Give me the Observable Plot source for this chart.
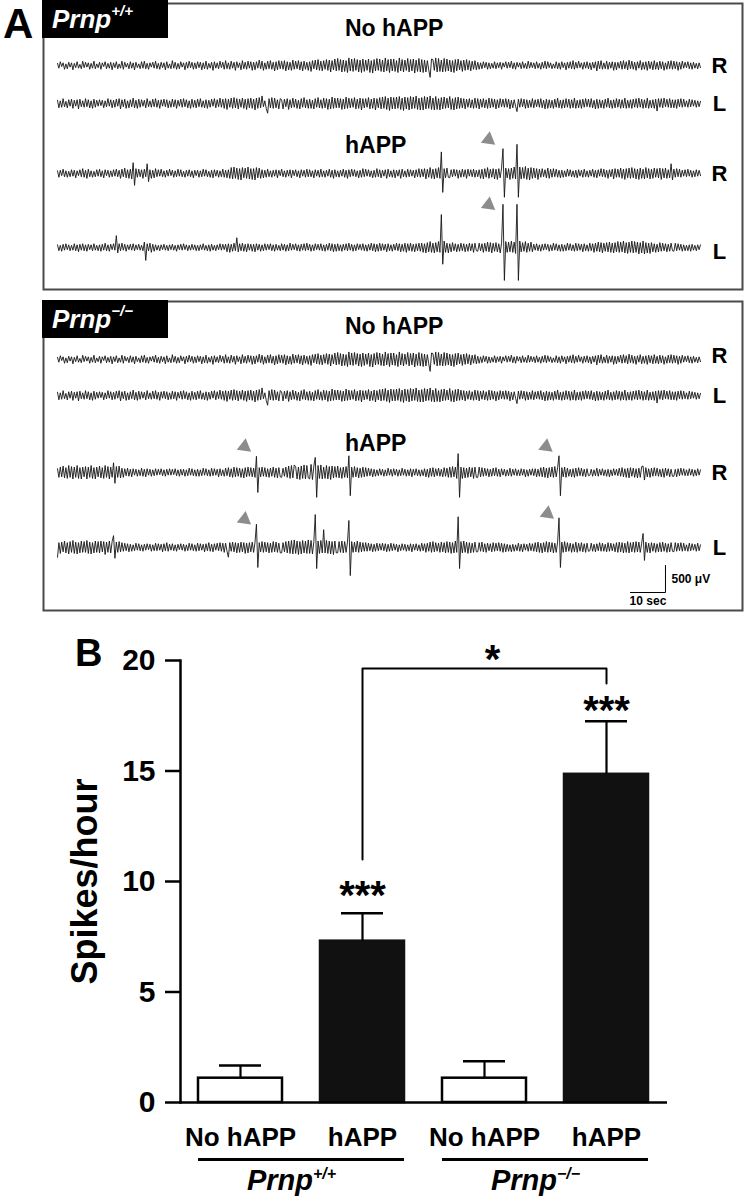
<!DOCTYPE html>
<html>
<head>
<meta charset="utf-8">
<script src="https://cdn.jsdelivr.net/npm/d3@7"></script>
<script src="https://cdn.jsdelivr.net/npm/@observablehq/plot@0.6"></script>
<style>
  body { margin: 0; background: #fff; }
  #root { position: relative; width: 744px; height: 1200px; overflow: hidden; font-family: "Liberation Sans", Arial, sans-serif; }
  .tag { position: absolute; background: #000; color: #fff; font: italic bold 26px "Liberation Sans", Arial, sans-serif; line-height: 38px; height: 38px; padding-left: 10px; box-sizing: border-box; white-space: nowrap; }
  .tag sup { font-size: 15px; vertical-align: 12px; line-height: 0; }
  .ttl { position: absolute; font: bold 23px "Liberation Sans", Arial, sans-serif; line-height: 1; transform: translateY(-50%); white-space: nowrap; }
  .panel { position: absolute; font-weight: bold; line-height: 1; font-family: "Liberation Sans", Arial, sans-serif; }
</style>
</head>
<body>
<div id="root"></div>
<script>
// ---------------- DATA: panel A EEG traces (amplitude in units of 10 µV, one sample every 0.4 s) ----------------
const noHappR = [
  4,-5,7,-2,5,-7,3,-6,6,-3,5,-8,4,-4,7,-5,2,-6,8,-4,
  6,-3,5,-7,4,-5,8,-6,3,-4,6,-7,5,-2,7,-6,4,-5,6,-8,
  5,-4,7,-6,3,-5,8,-7,6,-3,4,-6,7,-5,5,-8,6,-4,3,-6,
  7,-5,8,-6,4,-7,5,-3,6,-5,8,-6,4,-7,6,-4,5,-8,7,-5,
  3,-6,9,-5,6,-7,4,-6,7,-3,5,-8,6,-5,8,-4,6,-7,5,-6,
  7,-4,6,-8,5,-6,8,-7,4,-5,6,-9,7,-5,5,-6,8,-4,6,-7,
  9,-6,5,-7,8,-5,6,-9,7,-4,5,-8,9,-6,6,-7,8,-5,7,-9,
  6,-8,7,-5,10,-6,8,-9,5,-7,8,-6,9,-7,6,-10,7,-8,9,-6,
  8,-7,9,-10,7,-8,6,-9,10,-7,8,-6,9,-8,7,-10,8,-7,6,-9,
  7,-11,9,-6,10,-8,11,-9,8,-10,9,-7,11,-9,10,-12,9,-8,12,-10,
  13,-9,11,-12,10,-11,9,-13,14,-10,12,-11,13,-9,11,-12,10,-13,12,-11,
  10,-9,12,-13,9,-14,11,-10,13,-9,12,-11,10,-12,14,-10,11,-13,12,-10,
  12,-11,9,-13,14,-10,11,-12,10,-9,13,-12,11,-10,12,-14,10,-11,13,-12,
  11,-13,10,-12,9,-8,-22,12,11,-9,14,-12,13,-11,10,-12,13,-11,12,-10,
  10,-12,9,-13,11,-10,12,-8,9,-11,10,-9,11,-8,9,-10,8,-7,9,-8,
  6,-7,5,-6,7,-4,6,-7,5,-6,4,-5,7,-6,5,-4,6,-7,5,-3,
  7,-5,6,-4,8,-6,5,-7,6,-3,5,-6,7,-5,4,-6,8,-5,6,-4,
  5,-6,7,-5,4,-7,6,-5,8,-6,7,-4,5,-6,3,-5,7,-6,5,-7,
  7,-4,5,-8,6,-5,7,-6,9,-7,6,-5,8,-4,5,-7,6,-5,7,-6,
  5,-8,6,-5,7,-10,8,-6,9,-7,5,-6,8,-7,6,-5,7,-9,6,-8,
  6,-5,8,-7,9,-6,7,-8,10,-6,8,-7,6,-9,7,-5,9,-8,6,-7,
  7,-9,8,-6,7,-8,9,-7,6,-8,8,-6,7,-9,5,-7,8,-6,9,-7,
  8,-6,7,-9,6,-7,8,-5,6,-4,7,-6,5,-7,6,-5,4,-6,5,-4
];
const noHappL = [
  6,-8,5,-7,9,-6,4,-8,7,-5,8,-9,6,-5,7,-10,8,-6,5,-7,
  9,-6,7,-8,5,-9,8,-7,6,-5,7,-4,6,-8,5,-6,9,-5,7,-8,
  6,-7,8,-5,9,-10,7,-6,8,-9,5,-8,7,-6,10,-8,6,-9,8,-7,
  7,-5,6,-8,9,-6,5,-7,8,-6,9,-7,6,-9,7,-5,8,-6,7,-8,
  5,-7,8,-6,7,-9,6,-5,8,-7,9,-6,7,-8,5,-9,8,-7,6,-8,
  8,-6,9,-7,5,-8,7,-9,6,-7,8,-5,9,-8,7,-6,10,-7,8,-9,
  9,-11,8,-7,10,-9,11,-8,9,-10,8,-7,10,-9,8,-11,9,-8,10,-9,
  8,-12,10,-9,11,-8,14,-6,5,-9,-18,9,-8,11,-9,10,-8,7,-10,9,
  7,-10,8,-6,9,-11,7,-8,10,-7,8,-9,6,-10,9,-7,11,-8,7,-9,
  8,-9,6,-10,9,-7,11,-8,7,-9,10,-8,9,-11,8,-10,12,-9,10,-8,
  10,-8,9,-11,8,-10,12,-9,10,-8,9,-7,11,-10,8,-9,10,-12,9,-8,
  9,-7,11,-10,8,-9,10,-12,9,-8,11,-10,12,-9,13,-11,10,-13,12,-10,
  11,-10,12,-9,13,-11,10,-13,12,-10,11,-12,13,-10,12,-9,14,-11,10,-12,
  11,-12,13,-10,12,-9,14,-11,10,-12,13,-11,9,-12,11,-10,12,-9,10,-8,
  13,-11,9,-12,11,-10,12,-9,10,-8,9,-10,8,-7,9,-8,7,-9,10,-8,
  9,-10,8,-7,9,-8,7,-9,10,-8,9,-7,8,-10,7,-8,9,-6,8,-7,
  9,-7,8,-10,6,-8,7,-5,-15,8,-7,9,-6,8,-9,7,-8,6,-7,9,
  -8,7,-6,8,-7,9,-8,6,-10,8,-9,7,-8,6,-9,8,-7,10,-8,6,
  -9,7,-8,9,-7,8,-9,7,-8,10,-9,6,-8,7,-9,8,-7,9,-6,8,
  -7,9,-8,6,-10,8,-9,7,-8,6,-9,8,-7,10,-8,6,-9,7,-8,9,
  -7,8,-9,7,-8,10,-9,6,-8,7,-9,8,-7,9,-8,10,-7,8,-9,7,
  -8,10,-9,6,-8,7,-9,8,-14,9,-7,9,-8,10,-6,8,-7,9,-8,7,
  -8,7,-9,8,-6,9,-7,8,-6,5,-7,8,-6,7,-5,6,-7,5,-6,4
];
const wtHappR = [
  5,-7,6,-4,8,-6,5,-7,4,-6,7,-5,6,-8,5,-4,7,-6,9,-7,
  6,-9,8,-6,5,-7,4,-6,7,-5,8,-6,5,-8,7,-4,6,-7,5,-6,
  7,-5,8,-6,6,-9,8,-6,10,-8,7,-9,8,-10,20,-22,9,-7,8,-6,
  7,-9,8,-6,18,-15,7,-9,6,-8,9,-6,7,-5,8,-6,5,-7,6,-5,
  8,-4,6,-7,5,-6,8,-5,7,-6,4,-7,6,-5,7,-6,5,-8,6,-4,
  6,-7,5,-6,8,-5,7,-6,4,-7,6,-8,7,-5,6,-7,5,-6,8,-7,
  6,-8,7,-9,11,-10,12,-9,10,-11,9,-12,11,-8,10,-9,12,-10,9,-11,
  9,-12,11,-8,10,-9,7,-8,6,-7,8,-6,5,-7,6,-5,7,-8,6,-4,
  8,-6,5,-7,6,-5,7,-8,6,-4,7,-6,5,-8,7,-5,6,-7,8,-6,
  7,-6,5,-8,7,-5,6,-7,8,-6,5,-7,6,-5,8,-7,6,-9,7,-6,
  5,-7,6,-5,8,-7,6,-9,7,-6,8,-5,7,-6,5,-8,6,-7,9,-6,
  8,-5,7,-6,5,-8,6,-7,9,-6,7,-8,6,-5,7,-9,8,-6,5,-7,
  7,-8,6,-5,7,-9,8,-6,5,-7,8,-6,7,-5,6,-8,7,-6,9,-7,
  8,-6,9,-10,8,-7,11,-9,8,-10,9,-8,11,-9,40,-35,9,-8,10,-7,
  -8,7,-6,8,-5,7,-9,6,-7,8,-6,7,-9,8,-5,7,-6,8,-7,6,
  -6,7,-9,8,-10,9,-7,11,-9,8,-7,9,-10,8,-11,9,-8,10,46,-44,
  10,-8,9,-11,10,-9,12,-10,54,-44,12,-10,11,-9,13,-11,10,-12,11,-9,
  10,-8,9,-11,8,-7,9,-6,7,-8,10,-9,8,-7,9,-6,8,-7,6,-8,
  6,-7,5,-6,8,-5,7,-6,5,-7,6,-8,7,-5,6,-7,8,-6,5,-7,
  6,-5,8,-7,6,-8,7,-5,9,-6,8,-7,6,-9,7,-6,8,-10,9,-7,
  8,-7,10,-9,8,-11,9,-8,10,-9,11,-8,9,-10,8,-11,10,-9,8,-10,
  11,-8,9,-10,8,-9,10,-7,9,-8,10,-11,9,-8,10,-9,7,-8,18,-12,
  8,-7,9,-6,8,-7,6,-5,7,-6,8,-5,6,-7,5,-6,7,-5,6,-4
];
const wtHappL = [
  5,-6,4,-7,6,-5,7,-4,5,-6,4,-5,7,-6,5,-8,6,-5,7,-6,
  5,-7,6,-4,5,-6,7,-5,4,-6,5,-7,6,-5,8,-6,5,-7,6,-4,
  7,-5,22,-10,7,-6,8,-5,6,-7,5,-4,6,-5,7,-6,5,-4,6,-5,
  4,-6,10,-24,7,-6,8,-9,6,-7,5,-5,4,-6,5,-4,6,-5,4,-6,
  5,-4,6,-5,4,-7,5,-4,6,-5,7,-4,5,-6,4,-5,6,-4,5,-6,
  4,-6,5,-4,7,-5,4,-6,5,-7,6,-5,4,-6,5,-4,7,-5,6,-4,
  6,-8,7,-9,6,-7,8,-6,18,-8,7,-6,8,-7,6,-8,7,-5,6,-7,
  6,-8,7,-5,6,-7,5,-6,7,-5,6,-4,7,-6,5,-7,6,-5,4,-6,
  7,-5,6,-7,5,-6,8,-5,6,-4,7,-6,5,-7,6,-5,7,-6,8,-5,
  6,-7,5,-6,7,-4,6,-5,7,-6,5,-7,6,-5,8,-6,7,-8,6,-7,
  7,-6,5,-7,6,-5,7,-6,8,-5,6,-7,5,-6,7,-4,6,-5,7,-6,
  5,-7,6,-5,8,-6,7,-8,6,-7,8,-6,7,-5,6,-8,7,-6,5,-7,
  6,-5,8,-6,7,-8,6,-7,8,-9,7,-6,8,-7,6,-8,7,-6,8,-7,
  8,-9,7,-10,9,-8,11,-9,8,-10,9,-8,11,-9,61,-31,12,-9,8,-10,
  7,-8,9,-6,7,-8,6,-7,8,-6,7,-8,6,-7,8,-6,7,-9,8,-6,
  -7,8,-6,7,-9,8,-7,10,-8,9,-10,8,-7,9,-8,7,-10,8,80,-61,
  11,-9,10,-8,12,-9,10,-11,80,-61,12,-8,9,-7,11,-9,8,-7,10,-8,
  6,-5,7,-6,5,-7,6,-5,7,-4,6,-7,5,-6,8,-5,7,-6,5,-7,
  6,-7,5,-6,8,-5,7,-6,5,-7,8,-6,7,-5,6,-8,7,-6,5,-7,
  8,-6,7,-9,8,-7,10,-8,9,-10,8,-7,9,-8,10,-9,8,-10,9,-8,
  11,-9,10,-8,12,-10,9,-11,10,-9,12,-10,11,-9,10,-12,9,-10,12,-12,
  9,-10,8,-11,9,-8,7,-9,6,-8,9,-7,8,-6,7,-8,6,-7,8,-6,
  -7,8,-6,7,-5,6,-7,5,-6,4,-6,5,-7,6,-5,4,-6,5,-4,5
];
const koHappR = [
  7,-9,10,-8,12,-10,9,-11,13,-9,11,-12,10,-9,13,-11,9,-12,10,-8,
  11,-12,10,-9,13,-11,9,-12,10,-8,12,-10,9,-11,13,-9,11,-12,10,-9,
  18,-20,11,-9,12,-10,8,-9,7,-6,8,-7,6,-8,7,-5,6,-7,5,-6,
  8,-7,6,-8,7,-5,6,-7,5,-6,7,-5,6,-4,7,-6,5,-7,6,-5,
  7,-5,6,-4,7,-6,5,-7,6,-5,6,-7,5,-6,8,-5,7,-6,5,-7,
  6,-7,5,-6,8,-5,7,-6,5,-7,8,-6,7,-5,6,-8,7,-6,5,-7,
  8,-6,9,-8,7,-9,10,-8,9,-7,8,-9,7,-10,9,-8,10,-7,9,-8,
  8,-9,30,-37,9,-8,10,-7,9,-8,7,-9,8,-7,10,-9,8,-10,9,-8,
  -9,8,-7,10,-9,12,-11,13,-10,14,11,-12,10,-13,12,-11,14,-12,13,-10,
  -12,15,-13,12,28,-46,13,-11,14,-12,10,-11,13,-12,11,-13,12,-10,11,-9,
  12,-10,9,-11,10,-9,11,-10,31,-43,10,-9,11,-8,9,-10,8,-9,10,-8,
  9,-7,8,-6,7,-8,6,-7,5,-6,7,-5,6,-7,5,-6,8,-5,6,-7,
  7,-5,6,-7,5,-6,8,-5,6,-7,5,-6,7,-8,6,-5,7,-6,5,-7,
  5,-6,7,-8,6,-9,8,-7,9,-8,7,-6,8,-7,6,-8,9,-7,8,-9,
  10,-9,11,-8,10,-11,35,-46,10,-11,9,-10,8,-9,10,-8,9,-11,10,-9,
  -9,10,-8,9,-7,8,-6,7,-8,6,-7,8,-6,9,-7,6,-8,7,-5,6,
  -7,5,-6,8,-7,6,-5,7,-6,5,-6,7,-5,6,-8,5,-7,6,-5,7,
  -6,7,-8,6,-7,9,-8,10,-9,8,-10,9,-8,10,-9,11,-8,9,31,-43,
  9,-8,10,-9,8,-7,6,-8,7,-9,8,-7,9,-6,8,-7,6,-8,7,-6,
  -5,6,-7,5,-6,8,-7,6,-5,7,-6,5,-7,6,-8,5,-6,7,-5,6,
  -6,8,-7,9,-8,7,-9,8,-10,9,-7,8,-9,7,-10,8,-9,11,12,-14,
  9,-8,7,-9,8,-7,9,-6,8,-7,6,-8,7,-9,8,-6,7,-8,6,-7,
  -7,6,-8,7,-6,8,-5,7,-6,5,-6,7,-5,6,-7,5,-6,7,-5,5
];
const koHappL = [
  -18,9,-11,10,-8,12,-10,9,-12,11,-9,13,-11,10,-12,9,-10,12,-9,11,
  -9,13,-11,10,-12,9,-10,12,-9,11,-10,12,-8,11,-13,10,-9,12,-10,11,
  22,-20,10,-9,11,-8,9,-7,8,-6,7,-8,6,-7,5,-6,8,-5,7,-6,
  5,-7,6,-5,7,-4,6,-7,5,-6,8,-6,7,-5,6,-8,7,-6,9,-7,
  6,-5,7,-6,5,-7,6,-4,7,-5,6,-7,5,-6,8,-5,7,-6,5,-7,
  8,-6,7,-5,6,-8,7,-6,9,-7,6,-8,7,-5,8,-6,9,-7,8,-9,
  8,-7,-18,9,-7,10,-8,9,-10,8,-9,10,-8,9,-11,8,-10,9,-8,10,
  -9,10,43,-37,9,-8,11,-9,10,-8,9,-10,8,-9,11,-8,10,-9,8,-10,
  -10,9,-8,11,-10,12,-11,13,-12,14,-11,12,-13,11,-12,13,-10,12,-11,14,
  -11,13,-12,11,61,-39,12,-11,13,-10,33,-10,13,-11,12,-12,11,-13,12,-10,
  -10,11,-9,12,-10,11,-9,10,50,-52,11,-9,10,-8,12,-9,10,-8,9,-7,
  9,-7,8,-6,7,-8,6,-7,8,-6,7,-5,8,-6,7,-8,6,-7,8,-6,
  7,-5,6,-8,5,-6,7,-5,6,-7,5,-6,7,-8,6,-5,7,-6,5,-7,
  8,-6,7,-9,8,-7,10,-9,11,-8,9,-7,8,-9,10,-8,9,-10,11,-9,
  10,-11,9,-10,12,-9,57,-39,11,-10,12,-9,10,-11,9,-10,8,-9,10,-8,
  -8,9,-7,10,-8,7,-9,8,-6,7,-8,9,-7,8,-6,9,-7,8,-9,7,
  -8,6,-7,5,-8,6,-7,5,-6,8,-7,6,-8,7,-5,6,-7,8,-6,7,
  -7,9,-8,10,-9,8,-10,9,-8,11,-9,10,-8,9,-10,8,-9,10,55,-37,
  10,-9,11,-8,9,-7,8,-9,7,-8,10,-9,8,-7,9,-8,7,-9,8,-7,
  -6,8,-7,6,-8,7,-6,9,-7,8,-7,6,-8,9,-7,8,-6,7,-8,9,
  -9,10,-8,9,-10,8,-9,11,-10,9,-8,10,-9,11,-8,10,-9,8,26,-24,
  10,-9,8,-10,9,-7,8,-9,7,-8,9,-8,10,-7,8,-9,7,-8,9,-7,
  -8,9,-7,8,-6,9,-7,8,-6,5,-7,8,-6,7,-5,6,-7,8,-6,5
];
const SAMPLE_SECONDS = 0.4;
const TRACE_SECONDS = 183.6;
const scaleBarSeconds = 10;
const scaleBarMicroV = 500;

// ---------------- DATA: panel B ----------------
const barKeys = ["wt-no", "wt-h", "ko-no", "ko-h"];
const conditionLabels = ["No hAPP", "hAPP", "No hAPP", "hAPP"];
const genotypeLabels = ["Prnp+/+", "Prnp−/−"];
const spikesMean = [1.1, 7.3, 1.1, 14.85];
const spikesSEM = [0.57, 1.26, 0.77, 2.4];
const yTicks = [0, 5, 10, 15, 20];
const withinGroupStars = [{key: "wt-h", y: 9.35, text: "***"}, {key: "ko-h", y: 17.7, text: "***"}];
const betweenGroups = {from: "wt-h", to: "ko-h", top: 19.64, fromEnd: 11.0, toEnd: 18.96, text: "*", textY: 20.0};

// ---------------- LAYOUT ----------------
const PX_PER_UNIT = 0.54;          // 500 µV (50 units of 10 µV) = 27 px
const FONT = "Liberation Sans, Arial, Helvetica, sans-serif";
const root = document.getElementById("root");

function put(el, left, top) {
  el.style.position = "absolute";
  el.style.left = left + "px";
  el.style.top = top + "px";
  root.appendChild(el);
  return el;
}
function div(cls, html) { const d = document.createElement("div"); d.className = cls; d.innerHTML = html; return d; }

function eegBox({rows, arrows, width, height, scaleBar}) {
  const ofs = r => r.basePx / PX_PER_UNIT;
  const marks = [Plot.frame({stroke: "#4a4a4a", strokeWidth: 2, inset: 1})];
  for (const r of rows) {
    marks.push(Plot.line(r.values, {
      x: (d, i) => i * SAMPLE_SECONDS,
      y: d => ofs(r) - d,
      stroke: "#151515", strokeWidth: 0.9
    }));
  }
  marks.push(Plot.text(rows, {frameAnchor: "right", y: r => ofs(r) + (r.labelDy || 0), text: "side", textAnchor: "middle", dx: -24, fontSize: 22, fontWeight: "bold", fill: "#000"}));
  if (arrows) {
    marks.push(Plot.dot(arrows, {
      x: "t", y: a => ofs(rows[a.row]) - a.above,
      symbol: "triangle", r: 5.4, fill: "#8c8c8c", stroke: "none", rotate: 8
    }));
  }
  if (scaleBar) {
    const tEnd = TRACE_SECONDS - scaleBarSeconds;
    const yBot = scaleBar.bottomPx / PX_PER_UNIT;
    const yTop = yBot - scaleBarMicroV / 10;
    marks.push(Plot.line([[tEnd - scaleBarSeconds, yBot], [tEnd, yBot], [tEnd, yTop]], {stroke: "#000", strokeWidth: 1}));
    marks.push(Plot.text([scaleBarMicroV + " μV"], {x: () => tEnd, y: () => (yBot + yTop) / 2, textAnchor: "start", dx: 6, fontSize: 12, fontWeight: "bold"}));
    marks.push(Plot.text([scaleBarSeconds + " sec"], {x: () => tEnd - scaleBarSeconds / 2, y: () => yBot, dy: 9, fontSize: 12, fontWeight: "bold"}));
  }
  return Plot.plot({
    width, height, margin: 0,
    x: {domain: [0, TRACE_SECONDS], range: [15, 658], axis: null},
    y: {domain: [0, height / PX_PER_UNIT], range: [0, height], axis: null},
    style: {background: "transparent", overflow: "visible", fontFamily: FONT},
    marks
  });
}

// Panel A letter
put(div("panel", "A"), 3, 3).style.fontSize = "42px";

// Box 1 : Prnp+/+
put(eegBox({
  width: 701, height: 288,
  rows: [
    {values: noHappR, side: "R", basePx: 63},
    {values: noHappL, side: "L", basePx: 101},
    {values: wtHappR, side: "R", basePx: 171},
    {values: wtHappL, side: "L", basePx: 245, labelDy: 8}
  ],
  arrows: [{row: 2, t: 123.1, above: 63}, {row: 3, t: 123.1, above: 79}]
}), 42, 2);
put(div("tag", "Prnp<sup>+/+</sup>"), 42, 0).style.width = "126px";
put(div("ttl", "No hAPP"), 345, 28);
put(div("ttl", "hAPP"), 345, 145);

// Box 2 : Prnp−/−
put(eegBox({
  width: 701, height: 311,
  rows: [
    {values: noHappR, side: "R", basePx: 59, labelDy: -7},
    {values: noHappL, side: "L", basePx: 95},
    {values: koHappR, side: "R", basePx: 172},
    {values: koHappL, side: "L", basePx: 247}
  ],
  arrows: [{row: 2, t: 53.4, above: 48}, {row: 2, t: 139.5, above: 48}, {row: 3, t: 53.4, above: 52}, {row: 3, t: 139.9, above: 63}],
  scaleBar: {bottomPx: 292}
}), 42, 300);
put(div("tag", "Prnp<sup>−/−</sup>"), 42, 300).style.width = "126px";
put(div("ttl", "No hAPP"), 345, 326);
put(div("ttl", "hAPP"), 345, 443);

// ---------------- Panel B ----------------
const bars = barKeys.map((k, i) => ({key: k, condition: conditionLabels[i], mean: spikesMean[i], sem: spikesSEM[i], hAPP: conditionLabels[i] === "hAPP"}));
const groups = [
  {label: genotypeLabels[0], from: barKeys[0], to: barKeys[1]},
  {label: genotypeLabels[1], from: barKeys[2], to: barKeys[3]}
];
const condOf = Object.fromEntries(bars.map(b => [b.key, b.condition]));
const B_W = 744, B_H = 580, B_ML = 180, B_MR = 77, B_MT = 40, B_MB = 98;
const PAD_IN = 0.31, PAD_OUT = 0.15;
const B_STEP = (B_W - B_ML - B_MR) / (barKeys.length - PAD_IN + 2 * PAD_OUT);
const bracket = [
  {key: betweenGroups.from, y: betweenGroups.fromEnd},
  {key: betweenGroups.from, y: betweenGroups.top},
  {key: betweenGroups.to, y: betweenGroups.top},
  {key: betweenGroups.to, y: betweenGroups.toEnd}
];

const plotB = Plot.plot({
  width: B_W, height: B_H,
  marginLeft: B_ML, marginRight: B_MR, marginTop: B_MT, marginBottom: B_MB,
  x: {domain: barKeys, paddingInner: PAD_IN, paddingOuter: PAD_OUT, label: null},
  y: {domain: [0, 20], label: null},
  style: {background: "transparent", overflow: "visible", fontFamily: FONT, fontWeight: "bold", color: "#000"},
  marks: [
    Plot.barY(bars, {filter: d => !d.hAPP, x: "key", y: "mean", fill: "#fff", stroke: "#000", strokeWidth: 2.5}),
    Plot.barY(bars, {filter: d => d.hAPP, x: "key", y: "mean", fill: "#111", stroke: "#111", strokeWidth: 2.5}),
    Plot.ruleX(bars, {x: "key", y1: "mean", y2: d => d.mean + d.sem, stroke: "#000", strokeWidth: 2.2}),
    Plot.tickY(bars, {x: "key", y: d => d.mean + d.sem, stroke: "#000", strokeWidth: 2.5, insetLeft: 21, insetRight: 21}),
    Plot.line(bracket, {x: "key", y: "y", stroke: "#000", strokeWidth: 2}),
    Plot.text(withinGroupStars, {x: "key", y: "y", text: "text", fontSize: 40, fontWeight: "bold"}),
    Plot.text([betweenGroups], {x: () => barKeys[2], y: "textY", text: "text", fontSize: 40, fontWeight: "bold", dx: 8}),
    Plot.frame({anchor: "left", stroke: "#000", strokeWidth: 2.5}),
    Plot.ruleY([0], {stroke: "#000", strokeWidth: 2.5}),
    Plot.axisY({ticks: yTicks, tickSize: 15, tickPadding: 10, fontSize: 30, fontWeight: "bold", strokeWidth: 2.5, label: null}),
    Plot.axisX({tickSize: 0, tickPadding: 25, fontSize: 26, fontWeight: "bold", tickFormat: k => condOf[k], label: null}),
    Plot.ruleY(groups, {y: () => -2.58, x1: "from", x2: "to", stroke: "#000", strokeWidth: 3}),
    Plot.text(groups, {x: "from", y: () => -3.53, dx: B_STEP / 2 - 10, text: "label", fontSize: 29, fontWeight: "bold", fontStyle: "italic"}),
    Plot.text(["Spikes/hour"], {frameAnchor: "left", textAnchor: "middle", rotate: -90, dx: -95, fontSize: 36, fontWeight: "bold"})
  ]
});
// superscripts for genotype labels
plotB.querySelectorAll("text").forEach(t => {
  const m = /^Prnp(.+)$/.exec(t.textContent);
  if (!m || t.querySelector("tspan")) return;
  t.textContent = "Prnp";
  const ts = document.createElementNS("http://www.w3.org/2000/svg", "tspan");
  ts.setAttribute("font-size", "16");
  ts.setAttribute("dy", "-11");
  ts.textContent = m[1];
  t.appendChild(ts);
});
put(plotB, 0, 620);
put(div("panel", "B"), 75, 634).style.fontSize = "38px";
</script>
</body>
</html>
